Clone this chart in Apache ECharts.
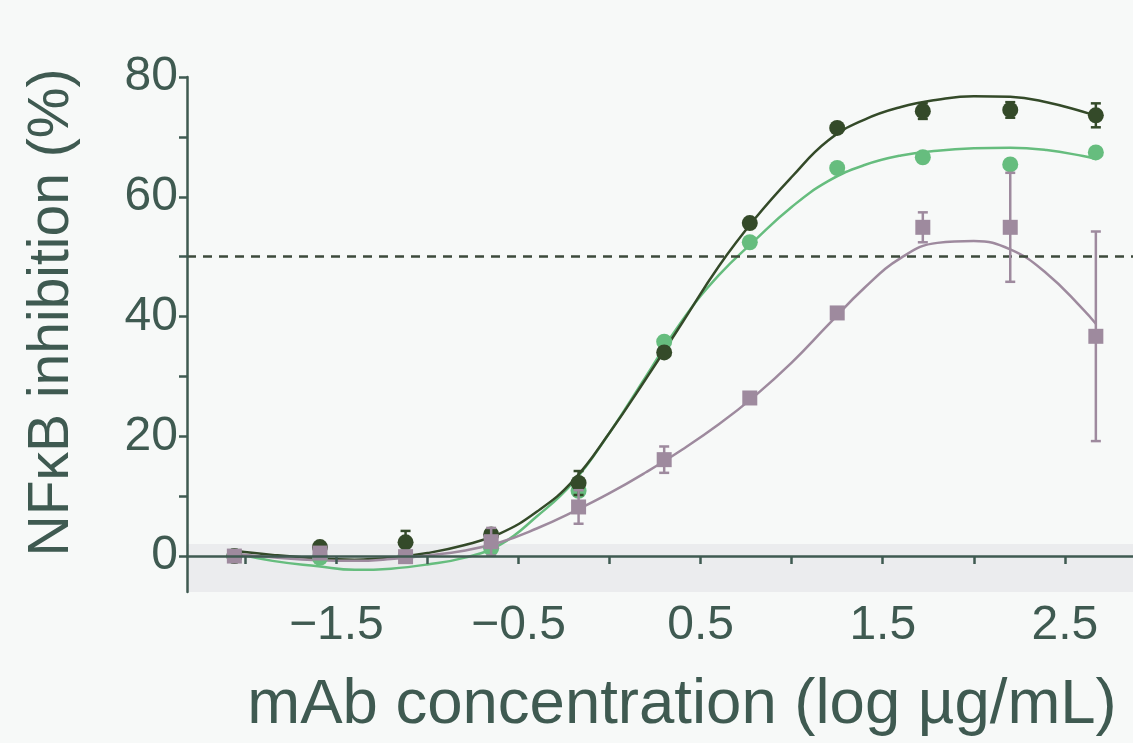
<!DOCTYPE html>
<html>
<head>
<meta charset="utf-8">
<script src="https://cdn.jsdelivr.net/npm/echarts@6/dist/echarts.min.js"></script>
<style>
html,body{margin:0;padding:0;background:#f7f9f8;}
#chart{width:1133px;height:743px;}
</style>
</head>
<body>
<div id="chart"></div>
<script>
// ---- data ----
const xLog = [-2.06, -1.59, -1.12, -0.65, -0.17, 0.30, 0.77, 1.25, 1.72, 2.20, 2.67];

const darkMean   = [0.0, 1.5, 2.3, 3.6, 12.2, 34.0, 55.6, 71.5, 74.3, 74.5, 73.6];
const darkErr    = [0.0, 0.8, 1.9, 0.6, 2.0, 0.6, 0.5, 0.5, 1.3, 1.3, 2.0];
const lightMean  = [0.0, -0.3, 0.0, 1.3, 10.9, 35.8, 52.4, 64.8, 66.6, 65.4, 67.4];
const lightErr   = [0.0, 0.0, 0.0, 0.0, 0.0, 0.0, 0.0, 0.0, 0.0, 0.0, 0.0];
const purpleMean = [0.0, 0.5, -0.1, 2.4, 8.2, 16.1, 26.4, 40.6, 54.9, 54.9, 36.7];
const purpleErr  = [0.0, 0.5, 0.5, 2.3, 2.8, 2.2, 0.5, 0.5, 2.5, 9.1, 17.5];

// fitted curves
const curveX      = [-2.06, -1.85, -1.6, -1.4, -1.2, -1.0, -0.8, -0.6, -0.4, -0.2, 0.0, 0.2, 0.4, 0.6, 0.8, 1.0, 1.2, 1.4, 1.6, 1.8, 2.0, 2.2, 2.4, 2.6, 2.67];
const darkCurve   = [0.9, 0.2, -0.4, -0.6, -0.3, 0.5, 1.8, 3.8, 7.4, 12.6, 20.6, 29.6, 39.0, 48.4, 56.4, 63.3, 69.4, 72.9, 75.0, 76.2, 76.8, 76.7, 75.8, 74.2, 73.5];
const lightCurve  = [0.5, -0.8, -1.7, -2.3, -2.1, -1.4, -0.3, 1.9, 6.6, 12.3, 20.6, 30.0, 39.4, 46.9, 52.8, 58.3, 62.6, 65.3, 66.9, 67.7, 68.1, 68.2, 67.8, 66.8, 66.3];
const purpleCurve = [0.4, -0.2, -0.7, -0.8, -0.5, 0.1, 0.9, 2.3, 4.6, 7.4, 10.5, 14.0, 17.8, 22.0, 26.8, 32.3, 38.6, 44.8, 49.8, 52.3, 52.6, 51.2, 47.2, 41.2, 38.8];

const xTickValues  = [-2, -1.5, -1, -0.5, 0, 0.5, 1, 1.5, 2, 2.5];
const xLabelValues = [-1.5, -0.5, 0.5, 1.5, 2.5];
const xLabelTexts  = ['\u22121.5', '\u22120.5', '0.5', '1.5', '2.5'];
const yTickValues  = [0, 10, 20, 30, 40, 50, 60, 70, 80];
const yLabelValues = [0, 20, 40, 60, 80];

const thresholdY = 50;
const bandRange = [-6, 2];

// ---- styling ----
const TXT = '#3f5a51';
const FONT = 'Liberation Sans, Arial, Helvetica, sans-serif';
const C_DARK = '#344a29';
const C_LIGHT = '#66bd7e';
const C_PURPLE = '#9e8a9e';

function pts(xs, ys){ return xs.map((x,i)=>[x, ys[i]]); }
function errData(xs, m, e){
  const out=[];
  xs.forEach((x,i)=>{ if(e[i]>0) out.push([x, m[i]-e[i], m[i]+e[i]]); });
  return out;
}
function errRender(color){
  return function(params, api){
    const x = api.value(0), lo = api.value(1), hi = api.value(2);
    const a = api.coord([x, hi]), b = api.coord([x, lo]);
    const w = 5;
    const st = {stroke: color, lineWidth: 2.5};
    return {type:'group', children:[
      {type:'line', shape:{x1:a[0], y1:a[1], x2:b[0], y2:b[1]}, style:st},
      {type:'line', shape:{x1:a[0]-w, y1:a[1], x2:a[0]+w, y2:a[1]}, style:st},
      {type:'line', shape:{x1:b[0]-w, y1:b[1], x2:b[0]+w, y2:b[1]}, style:st}
    ]};
  };
}

const chart = echarts.init(document.getElementById('chart'), null, {renderer:'canvas'});
chart.setOption({
  backgroundColor: '#f7f9f8',
  animation: false,
  grid: {left: 187, right: 0, top: 77, bottom: 151, containLabel: false, outerBoundsMode: 'none'},
  xAxis: {
    type: 'value', min: -2.32, max: 2.874, z: 10,
    name: 'mAb concentration (log \u00b5g/mL)', nameLocation: 'middle', nameGap: 81,
    nameTextStyle: {color: TXT, fontSize: 63.5, fontFamily: FONT, padding: [0,0,0,44]},
    axisLine: {show: true, lineStyle: {color: TXT, width: 2.5}},
    axisTick: {show: true, length: 8, lineStyle: {color: TXT, width: 2.5}, customValues: xTickValues},
    axisLabel: {color: TXT, fontSize: 48, fontFamily: FONT, margin: 10, customValues: xLabelValues,
      formatter: function(v){ const i = xLabelValues.indexOf(v); return i>=0 ? xLabelTexts[i] : ''; }},
    splitLine: {show: false}
  },
  yAxis: {
    type: 'value', min: -6, max: 80, z: 10,
    name: 'NF\u03baB inhibition (%)', nameLocation: 'middle', nameGap: 106,
    nameTextStyle: {color: TXT, fontSize: 57, fontFamily: FONT, padding: [0,0,0,44]},
    axisLine: {show: true, onZero: false, lineStyle: {color: TXT, width: 2.5}},
    axisTick: {show: true, length: 8, lineStyle: {color: TXT, width: 2.5}, customValues: yTickValues},
    axisLabel: {color: TXT, fontSize: 48, fontFamily: FONT, margin: 9, padding: [0,0,12,0], customValues: yLabelValues},
    splitLine: {show: false}
  },
  series: [
    {
      name: 'ref', type: 'line', z: 1, data: [[-2.32, -6]], symbol: 'none',
      lineStyle: {opacity: 0}, silent: true,
      markArea: {silent: true, itemStyle: {color: '#ebecee', opacity: 1},
        data: [[{yAxis: bandRange[0]}, {yAxis: bandRange[1]}]]},
      markLine: {silent: true, symbol: 'none', label: {show: false},
        lineStyle: {color: '#3d4a3b', width: 2.5, type: [9, 7]},
        data: [{yAxis: thresholdY}]}
    },
    {name: 'light fit', type: 'line', z: 3, data: pts(curveX, lightCurve), smooth: 0.45, symbol: 'none',
      lineStyle: {color: C_LIGHT, width: 2.5}},
    {name: 'dark fit', type: 'line', z: 3, data: pts(curveX, darkCurve), smooth: 0.45, symbol: 'none',
      lineStyle: {color: C_DARK, width: 2.5}},
    {name: 'purple fit', type: 'line', z: 3, data: pts(curveX, purpleCurve), smooth: 0.45, symbol: 'none',
      lineStyle: {color: C_PURPLE, width: 2.5}},
    {name: 'light err', type: 'custom', z: 4, renderItem: errRender(C_LIGHT), data: errData(xLog, lightMean, lightErr)},
    {name: 'light', type: 'scatter', z: 5, data: pts(xLog, lightMean), symbol: 'circle', symbolSize: 16,
      itemStyle: {color: C_LIGHT, opacity: 1}},
    {name: 'dark err', type: 'custom', z: 6, renderItem: errRender(C_DARK), data: errData(xLog, darkMean, darkErr)},
    {name: 'dark', type: 'scatter', z: 7, data: pts(xLog, darkMean), symbol: 'circle', symbolSize: 16,
      itemStyle: {color: C_DARK, opacity: 1}},
    {name: 'purple err', type: 'custom', z: 8, renderItem: errRender(C_PURPLE), data: errData(xLog, purpleMean, purpleErr)},
    {name: 'purple', type: 'scatter', z: 9, data: pts(xLog, purpleMean), symbol: 'rect', symbolSize: 15,
      itemStyle: {color: C_PURPLE, opacity: 1}}
  ]
});
</script>
</body>
</html>
